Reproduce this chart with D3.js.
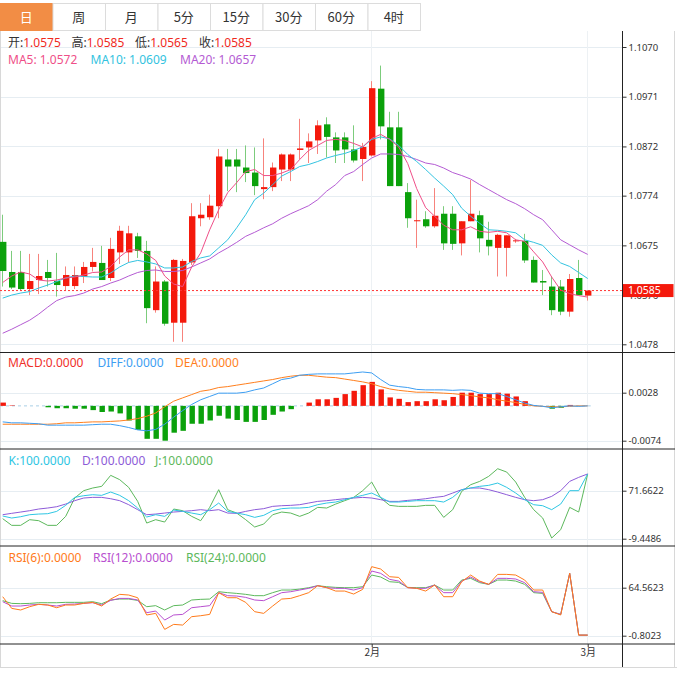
<!DOCTYPE html>
<html>
<head>
<meta charset="utf-8">
<script src="https://cdn.jsdelivr.net/npm/d3@7/dist/d3.min.js"></script>
<style>
  body { margin: 0; background: #fff; }
  svg text { font-family: "Noto Sans CJK SC", "Noto Sans", sans-serif; }
  svg text.legend { font-family: "Noto Sans", "Noto Sans CJK SC", sans-serif; }
</style>
</head>
<body>
<svg id="chart" width="677" height="678"></svg>
<script>
// ---- data ----
const tabLabels = ["日", "周", "月", "5分", "15分", "30分", "60分", "4时"]
const monthTickIndex = [41, 65]
const monthLabels = ["2月", "3月"]

const priceTicks = [1.1070, 1.0971, 1.0872, 1.0774, 1.0675, 1.0576, 1.0478]
const macdTicks = [0.0028, -0.0074]
const kdjTicks = [71.6622, -9.4486]
const rsiTicks = [64.5623, -0.8023]

const open = [1.0682,1.0622,1.0622,1.0588,1.0606,1.0622,1.0604,1.0594,1.0594,1.0613,
  1.0632,1.0640,1.0610,1.0661,1.0661,1.0693,1.0664,1.0546,1.0603,1.0521,
  1.0521,1.0641,1.0729,1.0731,1.0753,1.0846,1.0846,1.0830,1.0820,1.0787,
  1.0791,1.0826,1.0826,1.0865,1.0870,1.0884,1.0916,1.0890,1.0890,1.0866,
  1.0847,1.0854,1.0987,1.0910,1.0910,1.0781,1.0724,1.0727,1.0713,1.0738,
  1.0738,1.0679,1.0723,1.0735,1.0686,1.0670,1.0670,1.0684,1.0684,1.0646,
  1.0604,1.0593,1.0593,1.0543,1.0610,1.0575]
const high = [1.0736,1.0664,1.0664,1.0658,1.0658,1.0646,1.0660,1.0633,1.0633,1.0642,
  1.0670,1.0674,1.0690,1.0714,1.0714,1.0700,1.0684,1.0633,1.0606,1.0648,
  1.0648,1.0759,1.0759,1.0776,1.0867,1.0867,1.0867,1.0874,1.0870,1.0888,
  1.0840,1.0858,1.0858,1.0927,1.0898,1.0924,1.0930,1.0900,1.0900,1.0914,
  1.0879,1.1002,1.1033,1.0941,1.0941,1.0799,1.0766,1.0743,1.0789,1.0753,
  1.0753,1.0723,1.0805,1.0744,1.0722,1.0698,1.0695,1.0688,1.0698,1.0653,
  1.0626,1.0613,1.0606,1.0618,1.0646,1.0585]
const low = [1.0593,1.0588,1.0585,1.0576,1.0578,1.0593,1.0573,1.0586,1.0588,1.0600,
  1.0623,1.0606,1.0604,1.0638,1.0641,1.0650,1.0520,1.0541,1.0515,1.0483,
  1.0483,1.0636,1.0713,1.0726,1.0729,1.0783,1.0781,1.0801,1.0775,1.0767,
  1.0783,1.0803,1.0803,1.0846,1.0839,1.0857,1.0850,1.0839,1.0839,1.0840,
  1.0803,1.0852,1.0886,1.0793,1.0793,1.0710,1.0670,1.0710,1.0710,1.0666,
  1.0666,1.0655,1.0723,1.0661,1.0655,1.0613,1.0613,1.0680,1.0640,1.0601,
  1.0576,1.0536,1.0536,1.0533,1.0576,1.0565]
const close = [1.0624,1.0591,1.0588,1.0604,1.0614,1.0610,1.0596,1.0616,1.0616,1.0632,
  1.0642,1.0606,1.0668,1.0704,1.0699,1.0664,1.0550,1.0603,1.0519,1.0646,
  1.0644,1.0733,1.0736,1.0754,1.0852,1.0832,1.0832,1.0819,1.0793,1.0791,
  1.0830,1.0856,1.0856,1.0868,1.0882,1.0914,1.0891,1.0864,1.0866,1.0844,
  1.0871,1.0988,1.0912,1.0793,1.0793,1.0729,1.0725,1.0713,1.0734,1.0679,
  1.0678,1.0723,1.0738,1.0689,1.0673,1.0696,1.0695,1.0685,1.0645,1.0601,
  1.0601,1.0546,1.0543,1.0608,1.0576,1.0585]

const ma5 = [1.0601,1.0614,1.0622,1.0618,1.0606,1.0604,1.0606,1.0610,1.0612,1.0616,
  1.0621,1.0622,1.0633,1.0652,1.0666,1.0666,1.0658,1.0645,1.0614,1.0598,
  1.0593,1.0632,1.0660,1.0706,1.0746,1.0780,1.0800,1.0822,1.0826,1.0814,
  1.0814,1.0819,1.0826,1.0846,1.0864,1.0874,1.0884,1.0886,1.0884,1.0878,
  1.0871,1.0888,1.0896,1.0886,1.0871,1.0838,1.0788,1.0750,1.0733,1.0715,
  1.0706,1.0706,1.0712,1.0703,1.0701,1.0703,1.0700,1.0686,1.0683,1.0662,
  1.0642,1.0612,1.0586,1.0579,1.0575,1.0572]
const ma10 = [1.0570,1.0576,1.0580,1.0583,1.0590,1.0596,1.0603,1.0610,1.0614,1.0613,
  1.0612,1.0612,1.0620,1.0632,1.0641,1.0645,1.0642,1.0638,1.0630,1.0630,
  1.0632,1.0643,1.0650,1.0654,1.0670,1.0686,1.0710,1.0736,1.0766,1.0779,
  1.0796,1.0813,1.0822,1.0832,1.0836,1.0842,1.0849,1.0854,1.0858,1.0864,
  1.0871,1.0886,1.0891,1.0887,1.0874,1.0856,1.0842,1.0826,1.0809,1.0793,
  1.0776,1.0749,1.0733,1.0719,1.0706,1.0705,1.0703,1.0700,1.0686,1.0681,
  1.0675,1.0656,1.0640,1.0633,1.0621,1.0609]
const ma20 = [1.0500,1.0508,1.0517,1.0526,1.0538,1.0552,1.0565,1.0572,1.0575,1.0580,
  1.0588,1.0593,1.0600,1.0606,1.0614,1.0621,1.0625,1.0626,1.0623,1.0623,
  1.0625,1.0632,1.0640,1.0648,1.0660,1.0670,1.0681,1.0693,1.0701,1.0710,
  1.0718,1.0729,1.0738,1.0746,1.0754,1.0766,1.0783,1.0796,1.0814,1.0822,
  1.0836,1.0849,1.0857,1.0857,1.0856,1.0852,1.0846,1.0839,1.0836,1.0829,
  1.0820,1.0814,1.0807,1.0796,1.0786,1.0776,1.0766,1.0758,1.0748,1.0736,
  1.0726,1.0706,1.0686,1.0676,1.0666,1.0657]

const macd = [0.0007,0.0001,0,0,0,-0.0003,-0.0005,-0.0005,-0.0006,-0.0006,
  -0.0009,-0.0013,-0.0012,-0.0016,-0.0031,-0.0051,-0.0070,-0.0070,-0.0074,-0.0057,
  -0.0053,-0.0038,-0.0038,-0.0031,-0.0021,-0.0027,-0.0030,-0.0034,-0.0034,-0.0030,
  -0.0019,-0.0012,-0.0007,0,0.0007,0.0014,0.0014,0.0017,0.0025,0.0032,
  0.0044,0.0051,0.0035,0.0018,0.0015,0.0008,0.0010,0.0010,0.0014,0.0012,
  0.0019,0.0028,0.0028,0.0025,0.0025,0.0028,0.0026,0.0020,0.0010,0.0001,
  0,-0.0006,-0.0004,0.0002,0,0]
const diff = [-0.0034,-0.0036,-0.0036,-0.0037,-0.0038,-0.0041,-0.0041,-0.0041,-0.0041,-0.0041,
  -0.0040,-0.0039,-0.0039,-0.0042,-0.0046,-0.0051,-0.0053,-0.0050,-0.0039,-0.0024,
  -0.0010,0.0003,0.0013,0.0020,0.0027,0.0027,0.0027,0.0029,0.0034,0.0038,
  0.0047,0.0056,0.0059,0.0065,0.0067,0.0068,0.0068,0.0068,0.0068,0.0070,
  0.0072,0.0070,0.0056,0.0044,0.0041,0.0039,0.0035,0.0034,0.0034,0.0034,
  0.0033,0.0034,0.0033,0.0027,0.0026,0.0026,0.0020,0.0013,0.0006,0.0001,
  -0.0001,-0.0004,-0.0002,0,-0.0001,0]
const dea = [-0.0039,-0.0039,-0.0039,-0.0039,-0.0039,-0.0039,-0.0038,-0.0036,-0.0036,-0.0035,
  -0.0034,-0.0034,-0.0033,-0.0032,-0.0030,-0.0027,-0.0022,-0.0015,-0.0002,0.0010,
  0.0017,0.0024,0.0031,0.0034,0.0039,0.0041,0.0044,0.0047,0.0050,0.0053,
  0.0056,0.0060,0.0063,0.0065,0.0065,0.0063,0.0061,0.0060,0.0057,0.0054,
  0.0051,0.0047,0.0041,0.0036,0.0033,0.0031,0.0029,0.0029,0.0028,0.0027,
  0.0026,0.0024,0.0022,0.0019,0.0017,0.0013,0.0010,0.0007,0.0003,0,
  -0.0001,-0.0002,-0.0002,-0.0001,0,0]

const kdjK = [28.9,25.5,27.7,31.1,32.2,32.8,36.7,46.9,60.4,63.2,
  64.9,63.8,69.4,63.8,54.8,42.4,27.2,31.1,28.3,39.0,
  36.7,33.9,31.1,39.6,50.8,36.7,33.9,31.1,26.6,30.0,
  37.9,41.3,42.4,42.4,43.5,48.0,50.8,52.5,56.5,60.4,
  63.8,67.7,60.4,52.5,52.5,53.6,54.8,54.8,54.8,52.5,
  60.4,73.4,76.2,79.0,80.7,84.6,77.3,67.7,56.5,48.0,
  46.3,39.6,49.1,71.7,71.7,100]
const kdjD = [31.1,33.4,35.6,37.9,40.7,42.4,44.6,49.1,54.8,59.3,
  60.4,60.4,58.1,54.8,48.0,39.6,31.1,32.2,33.9,35.6,
  36.7,37.9,39.6,37.9,39.6,33.9,33.4,36.7,39.6,41.3,
  45.2,46.3,46.9,48.0,50.8,53.6,54.8,56.5,58.1,59.3,
  60.4,59.3,56.5,53.6,53.6,55.3,56.5,58.1,60.4,62.1,
  67.7,73.4,76.2,76.2,73.4,69.4,64.9,60.4,56.5,54.8,
  56.5,62.1,71.7,87.4,94.2,100]
const kdjJ = [24.4,13.1,13.1,22.7,21.0,13.1,13.1,28.3,59.3,71.7,
  76.2,79.0,97.6,90.3,77.3,53.6,17.0,22.7,18.7,40.7,
  37.9,28.3,21.0,43.5,73.4,39.6,33.9,22.7,10.3,15.3,
  31.1,35.6,33.9,28.3,33.9,43.5,42.4,49.1,54.8,60.4,
  71.7,86.3,59.3,46.9,45.2,45.2,45.2,46.9,46.9,26.6,
  39.6,70.5,81.8,87.4,95.9,108.8,103.2,86.3,60.4,39.6,
  25.5,-8.3,5.8,43.5,35.6,100]

const rsi6 = [52.3,36.4,34.2,38.7,41.9,41.0,37.3,41.0,41.0,43.2,
  44.6,39.6,49.1,55.5,54.6,50.9,27.4,29.6,7.8,14.6,
  13.7,25.1,26.4,28.2,57.8,50.9,50.9,44.6,31.9,29.6,
  39.6,49.1,50.0,53.7,57.8,67.3,64.6,60.0,60.0,55.9,
  62.3,93.2,90.0,79.5,78.6,64.6,63.7,60.0,68.2,52.3,
  52.3,72.7,81.8,73.6,69.1,82.7,82.7,81.8,75.0,61.4,
  61.4,31.9,27.4,84.1,0,0]
const rsi12 = [45.5,39.6,39.6,41.0,41.9,41.0,39.6,41.9,42.3,43.2,
  44.1,41.0,47.3,50.0,50.0,47.8,30.5,32.8,20.5,27.4,
  28.2,37.3,38.7,40.1,57.8,53.7,53.2,51.4,47.8,46.9,
  52.3,57.8,59.1,61.4,63.7,67.3,64.6,63.7,63.7,61.4,
  64.6,87.3,84.1,75.9,73.6,64.6,63.7,63.7,68.2,57.8,
  57.8,73.6,79.1,72.7,69.1,77.3,77.3,76.4,71.4,59.1,
  58.2,31.9,28.2,84.1,0,0]
const rsi24 = [46.9,43.2,42.8,43.2,44.1,44.1,44.1,44.6,44.6,44.6,
  45.5,42.8,47.8,49.1,49.1,47.3,38.7,40.1,34.2,40.1,
  41.0,47.8,48.7,49.1,59.1,57.8,56.8,55.5,53.7,53.7,
  57.8,61.4,61.4,62.7,64.6,67.3,65.9,65.0,64.6,64.6,
  65.9,81.8,79.1,72.7,71.8,65.0,64.6,64.6,68.2,61.4,
  61.4,75.0,77.3,71.4,69.1,75.0,75.0,73.6,69.1,57.8,
  56.8,31.9,28.2,84.1,0,0]

// ---- layout ----
const width = 677
const axisX = 622.5
const bodyW = 6.4
const upColor = "#f4190c", downColor = "#0ba10b"
const upWick = "#f7837c", downWick = "#7ccc7c"
const gridColor = "#e6edf2"
const last = close.length - 1

const panels = {
  main: { top: 31, bottom: 352.5 },
  macd: { top: 352.5, bottom: 449 },
  kdj: { top: 449, bottom: 546 },
  rsi: { top: 546, bottom: 644 },
}

const svg = d3.select("#chart")

const x = d3.scaleLinear().domain([0, last]).range([2.7, 587.7])
const yPrice = d3.scaleLinear().domain([priceTicks[6], priceTicks[0]]).range([344.3, 47])
const yMacd = d3.scaleLinear().domain([macdTicks[1], macdTicks[0]]).range([440.7, 392.7])
const yKdj = d3.scaleLinear().domain([kdjTicks[1], kdjTicks[0]]).range([538.7, 490.7])
const yRsi = d3.scaleLinear().domain([rsiTicks[1], rsiTicks[0]]).range([635.7, 587.7])

// clip paths for each panel
const defs = svg.append("defs")
Object.entries(panels).forEach(([k, p]) => {
  defs.append("clipPath").attr("id", "clip-" + k)
    .append("rect").attr("x", 0).attr("y", p.top + 0.5)
    .attr("width", axisX).attr("height", p.bottom - p.top - 1)
})

// ---- tabs ----
const tabX = d3.scaleBand().domain(tabLabels).range([0, 420])
const tabs = svg.append("g").attr("class", "tabs")
tabs.selectAll("rect").data(tabLabels).join("rect")
  .attr("x", d => tabX(d) + 0.5).attr("y", 3.5)
  .attr("width", tabX.bandwidth()).attr("height", 27)
  .attr("fill", (d, i) => i === 0 ? "#f28d45" : "#fff")
  .attr("stroke", (d, i) => i === 0 ? "#f28d45" : "#dcdcdc")
tabs.selectAll("text").data(tabLabels).join("text")
  .attr("x", d => tabX(d) + tabX.bandwidth() / 2).attr("y", 21.5)
  .attr("text-anchor", "middle").attr("font-size", 13)
  .attr("fill", (d, i) => i === 0 ? "#fff" : "#333")
  .text(d => d)

// ---- frame & grid ----
const grid = svg.append("g").attr("class", "grid")
function hGrid(scale, ticks) {
  grid.selectAll(null).data(ticks).join("line")
    .attr("x1", 0).attr("x2", axisX)
    .attr("y1", d => Math.round(scale(d)) + 0.5).attr("y2", d => Math.round(scale(d)) + 0.5)
    .attr("stroke", gridColor)
}
hGrid(yPrice, priceTicks)
hGrid(yMacd, macdTicks)
hGrid(yKdj, kdjTicks)
hGrid(yRsi, rsiTicks)
grid.selectAll(null).data(monthTickIndex).join("line")
  .attr("x1", d => Math.floor(x(d)) + 0.5).attr("x2", d => Math.floor(x(d)) + 0.5)
  .attr("y1", panels.main.top).attr("y2", panels.rsi.bottom)
  .attr("stroke", "#edf1f4")

svg.append("line").attr("x1", 0.5).attr("x2", 0.5).attr("y1", 31).attr("y2", 667)
  .attr("stroke", "#d8d8d8")
svg.append("line").attr("x1", 674.5).attr("x2", 674.5).attr("y1", 31).attr("y2", 667)
  .attr("stroke", "#d8d8d8")
svg.append("line").attr("x1", 0).attr("x2", width).attr("y1", 667.5).attr("y2", 667.5)
  .attr("stroke", "#d8d8d8")
;[panels.macd.top, panels.kdj.top, panels.rsi.top, panels.rsi.bottom].forEach(yy => {
  svg.append("line").attr("x1", 0).attr("x2", 675).attr("y1", yy).attr("y2", yy)
    .attr("stroke", "#222")
})

// ---- candles ----
const candles = d3.range(close.length).map(i => ({ i, o: open[i], h: high[i], l: low[i], c: close[i] }))
const isUp = d => d.c >= d.o
const main = svg.append("g").attr("clip-path", "url(#clip-main)")

main.selectAll(".wick").data(candles).join("line").attr("class", "wick")
  .attr("x1", d => Math.floor(x(d.i)) + 0.5).attr("x2", d => Math.floor(x(d.i)) + 0.5)
  .attr("y1", d => yPrice(d.h)).attr("y2", d => yPrice(d.l))
  .attr("stroke", d => isUp(d) ? upWick : downWick)

main.selectAll(".body").data(candles).join("rect").attr("class", "body")
  .attr("x", d => x(d.i) - bodyW / 2 + 0.5)
  .attr("y", d => yPrice(Math.max(d.o, d.c)))
  .attr("width", bodyW)
  .attr("height", d => Math.max(1, Math.abs(yPrice(d.o) - yPrice(d.c))))
  .attr("fill", d => isUp(d) ? upColor : downColor)

function drawLine(g, values, scale, color) {
  g.append("path").datum(values)
    .attr("fill", "none").attr("stroke", color).attr("stroke-width", 1)
    .attr("d", d3.line().x((d, i) => x(i)).y(d => scale(d)))
}
drawLine(main, ma20, yPrice, "#b45bd3")
drawLine(main, ma10, yPrice, "#33c3e0")
drawLine(main, ma5, yPrice, "#ef4f88")

// current price line
const priceY = yPrice(close[last])
main.append("line").attr("x1", 0).attr("x2", axisX)
  .attr("y1", priceY).attr("y2", priceY)
  .attr("stroke", "#f33").attr("stroke-dasharray", "2,2")

// ---- MACD ----
const macdG = svg.append("g").attr("clip-path", "url(#clip-macd)")
macdG.append("line").attr("x1", 0).attr("x2", x(last) + 3)
  .attr("y1", yMacd(0)).attr("y2", yMacd(0))
  .attr("stroke", "#a9cfe6").attr("stroke-dasharray", "3,3")
macdG.selectAll("rect").data(macd).join("rect")
  .attr("x", (d, i) => x(i) - 2.7 + 0.5)
  .attr("y", d => Math.min(yMacd(d), yMacd(0)))
  .attr("width", 5.4)
  .attr("height", d => Math.abs(yMacd(d) - yMacd(0)))
  .attr("fill", d => d >= 0 ? upColor : downColor)
drawLine(macdG, dea, yMacd, "#ff7f1e")
drawLine(macdG, diff, yMacd, "#3d9ef2")

// ---- KDJ ----
const kdjG = svg.append("g").attr("clip-path", "url(#clip-kdj)")
drawLine(kdjG, kdjJ, yKdj, "#5cb85c")
drawLine(kdjG, kdjD, yKdj, "#8d5bd8")
drawLine(kdjG, kdjK, yKdj, "#2fc6e3")

// ---- RSI ----
const rsiG = svg.append("g").attr("clip-path", "url(#clip-rsi)")
drawLine(rsiG, rsi24, yRsi, "#5cb85c")
drawLine(rsiG, rsi12, yRsi, "#b84fcf")
drawLine(rsiG, rsi6, yRsi, "#ff7a1a")

// ---- axes ----
const fmt4 = d => d.toFixed(4)
function rightAxis(scale, ticks) {
  const g = svg.append("g").attr("transform", `translate(${axisX},0)`)
    .call(d3.axisRight(scale).tickValues(ticks).tickSize(4).tickPadding(2).tickFormat(fmt4))
  g.select(".domain").remove()
  g.selectAll("line").attr("stroke", "#333")
  g.selectAll("text").attr("font-size", 9.5).attr("fill", "#333")
    .style("font-family", "'Noto Sans', sans-serif")
  return g
}
rightAxis(yPrice, priceTicks)
rightAxis(yMacd, macdTicks)
rightAxis(yKdj, kdjTicks)
rightAxis(yRsi, rsiTicks)
svg.append("line").attr("x1", axisX).attr("x2", axisX).attr("y1", 31).attr("y2", 667)
  .attr("stroke", "#222")

const xAxis = svg.append("g").attr("transform", `translate(0,${panels.rsi.bottom})`)
  .call(d3.axisBottom(x).tickValues(monthTickIndex).tickSize(3).tickPadding(2)
    .tickFormat((d, k) => monthLabels[k]))
xAxis.select(".domain").remove()
xAxis.selectAll("line").attr("stroke", "#333")
xAxis.selectAll("text").attr("font-size", 10).attr("fill", "#333")

// current price label
svg.append("rect").attr("x", 623).attr("y", priceY - 6.5)
  .attr("width", 50.5).attr("height", 13).attr("fill", "#f4190c")
svg.append("text").attr("x", 628).attr("y", priceY + 3.8)
  .attr("font-size", 10.5).attr("fill", "#fff")
  .style("font-family", "'Noto Sans', sans-serif")
  .text(fmt4(close[last]))

// ---- header texts ----
function legend(y, items) {
  items.forEach(it => {
    const t = svg.append("text").attr("class", "legend")
      .attr("x", it.x).attr("y", y).attr("font-size", 12)
    if (it.label) t.append("tspan").attr("fill", "#333").text(it.label)
    t.append("tspan").attr("fill", it.color).text(it.value)
  })
}
legend(47, [
  { x: 8, label: "开:", value: fmt4(open[last]), color: "#f02a1e" },
  { x: 71.5, label: "高:", value: fmt4(high[last]), color: "#f02a1e" },
  { x: 135, label: "低:", value: fmt4(low[last]), color: "#f02a1e" },
  { x: 199, label: "收:", value: fmt4(close[last]), color: "#f02a1e" },
])
legend(63.5, [
  { x: 8, value: "MA5: " + fmt4(ma5[last]), color: "#ef4f88" },
  { x: 90.5, value: "MA10: " + fmt4(ma10[last]), color: "#33c3e0" },
  { x: 180, value: "MA20: " + fmt4(ma20[last]), color: "#b45bd3" },
])
legend(367, [
  { x: 8, value: "MACD:" + fmt4(macd[last]), color: "#f0302a" },
  { x: 97.5, value: "DIFF:" + fmt4(diff[last]), color: "#3d9ef2" },
  { x: 175, value: "DEA:" + fmt4(dea[last]), color: "#ff7f1e" },
])
legend(465, [
  { x: 8.5, value: "K:" + fmt4(kdjK[last]), color: "#2fc6e3" },
  { x: 82, value: "D:" + fmt4(kdjD[last]), color: "#8d5bd8" },
  { x: 155, value: "J:" + fmt4(kdjJ[last]), color: "#5cb85c" },
])
legend(562, [
  { x: 8.5, value: "RSI(6):" + fmt4(rsi6[last]), color: "#ff7a1a" },
  { x: 93, value: "RSI(12):" + fmt4(rsi12[last]), color: "#b84fcf" },
  { x: 186, value: "RSI(24):" + fmt4(rsi24[last]), color: "#5cb85c" },
])
</script>
</body>
</html>
